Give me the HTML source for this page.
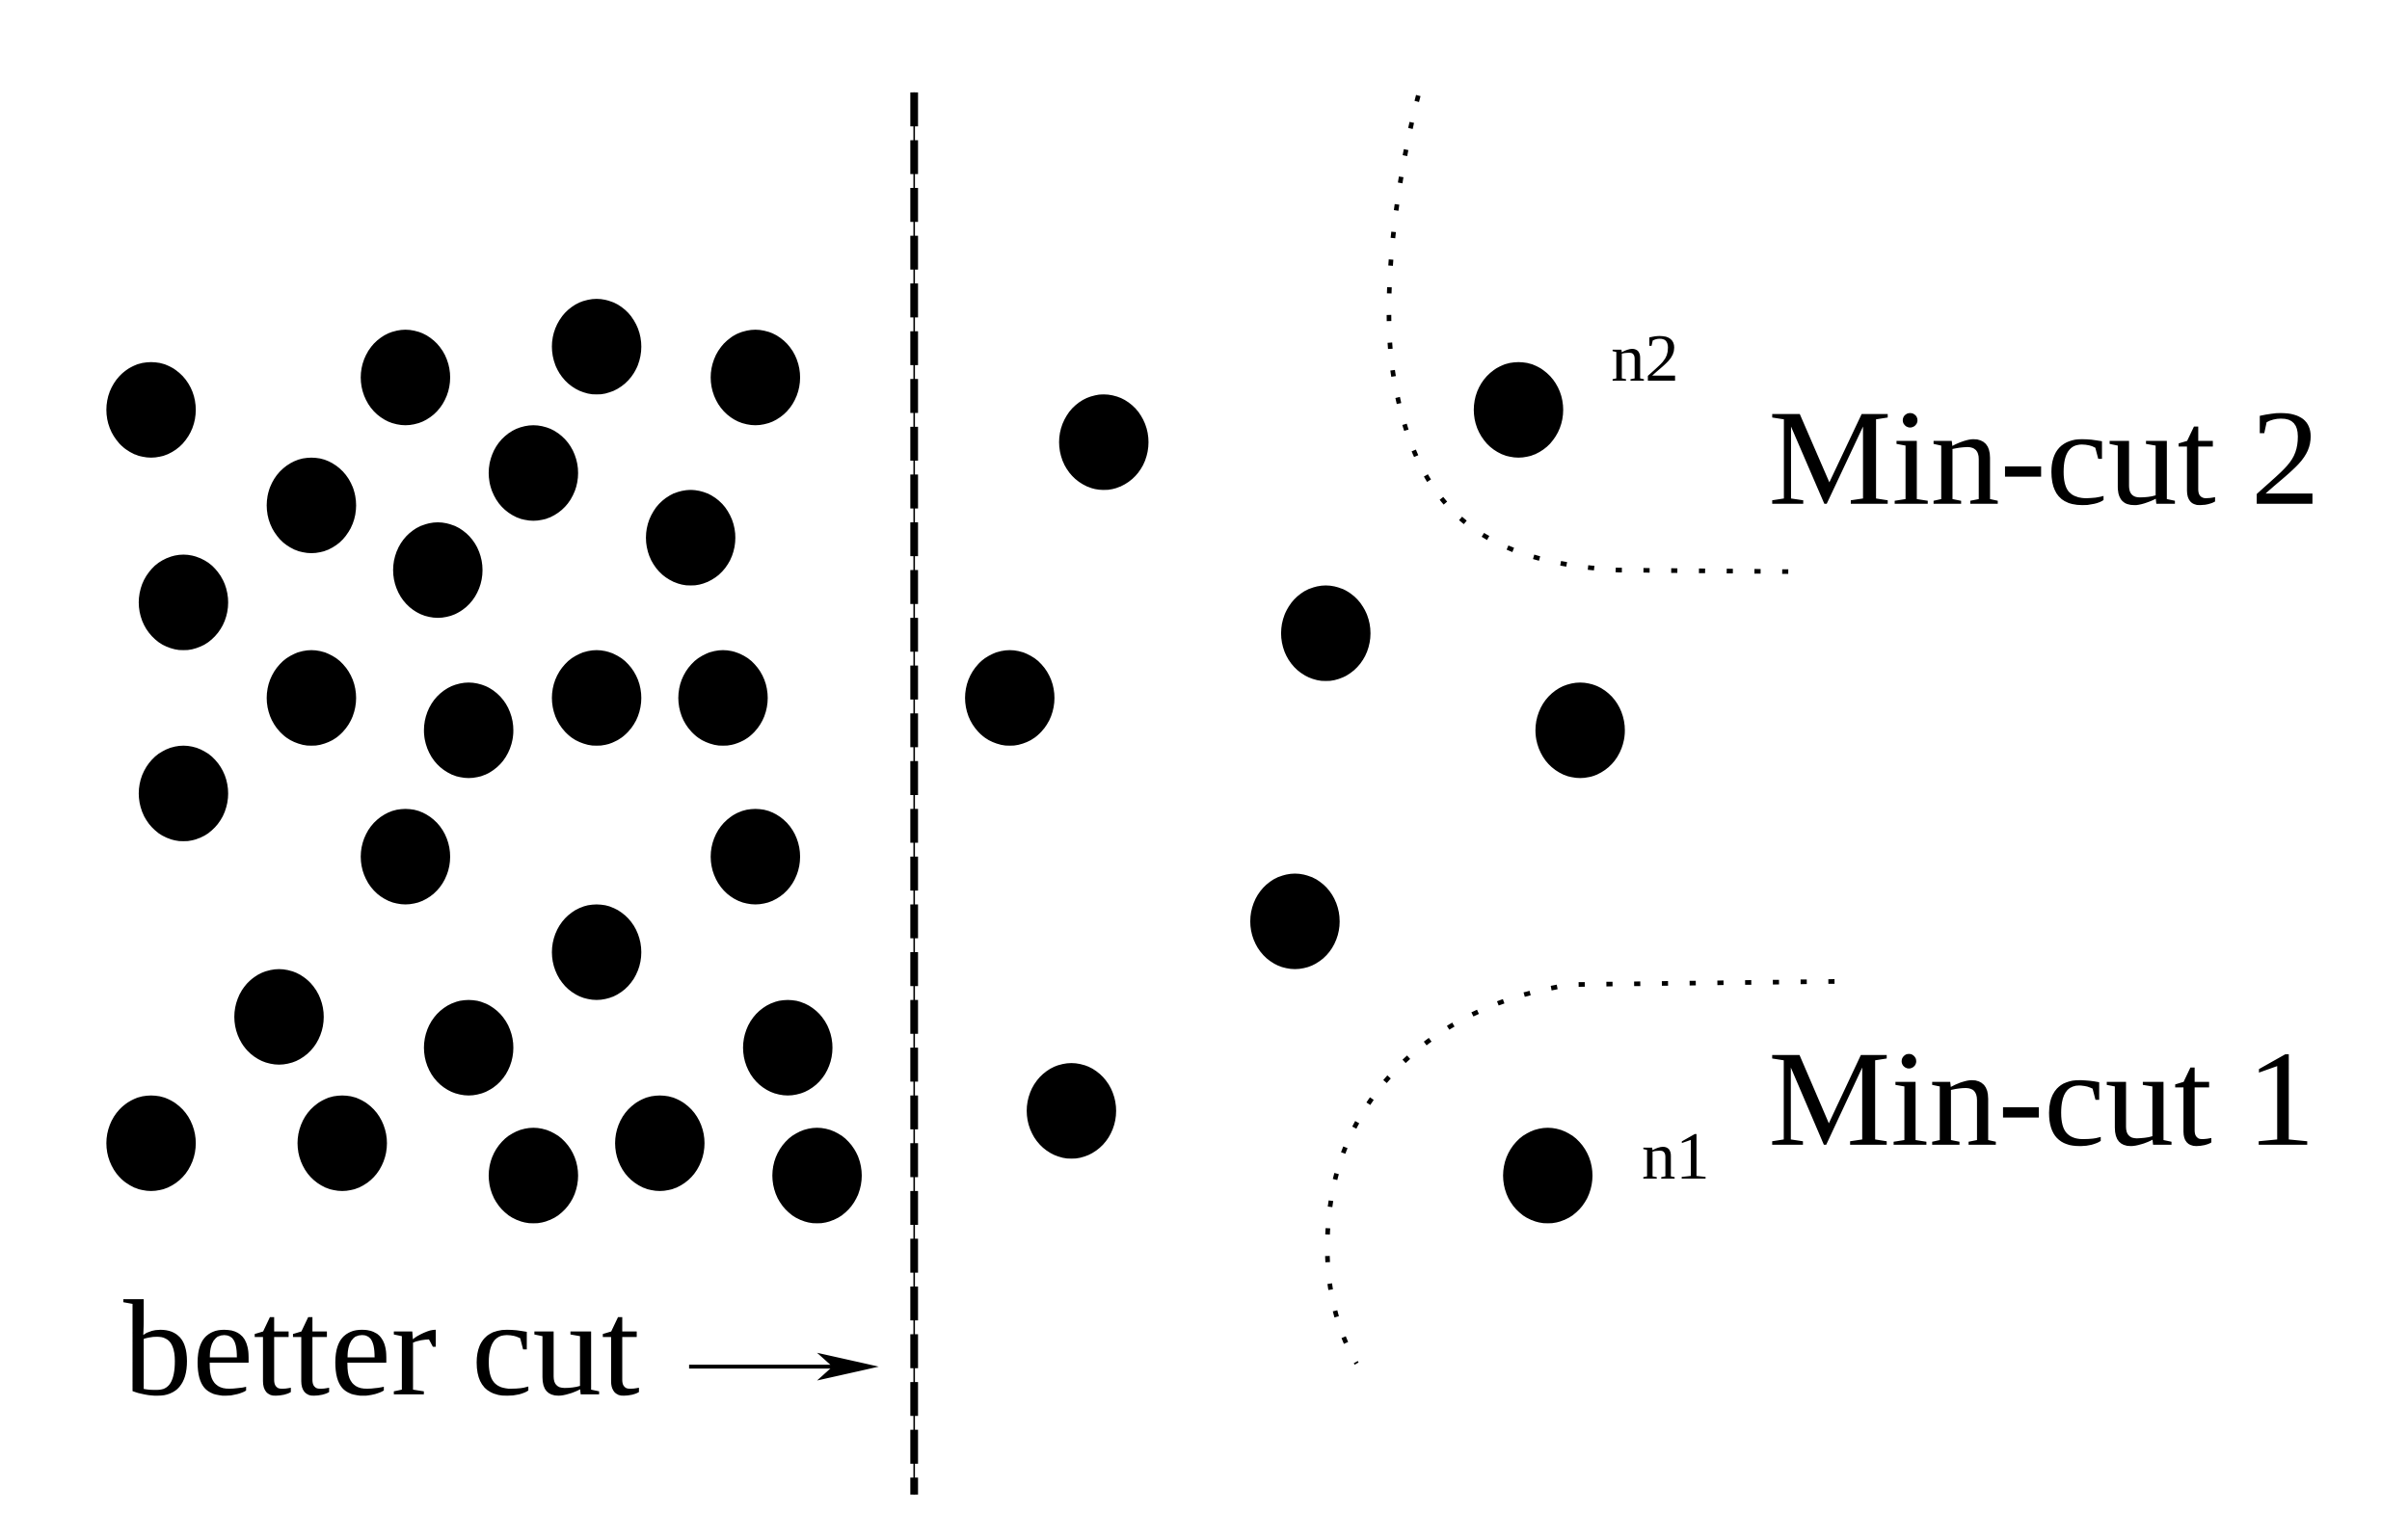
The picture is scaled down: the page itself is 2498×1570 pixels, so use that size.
<!DOCTYPE html>
<html><head><style>html,body{margin:0;padding:0;background:#fff}svg{display:block}
text{font-family:"Liberation Serif","Times New Roman",serif}</style></head>
<body>
<svg width="2498" height="1570" viewBox="0 0 1562 982" preserveAspectRatio="none" xmlns="http://www.w3.org/2000/svg">
<rect width="1562" height="982" fill="#fff"/>
<g fill="#000">
<ellipse cx="98" cy="266" rx="29" ry="31"/><ellipse cx="263" cy="245" rx="29" ry="31"/><ellipse cx="387" cy="225" rx="29" ry="31"/><ellipse cx="490" cy="245" rx="29" ry="31"/>
<ellipse cx="202" cy="328" rx="29" ry="31"/><ellipse cx="346" cy="307" rx="29" ry="31"/><ellipse cx="448" cy="349" rx="29" ry="31"/><ellipse cx="284" cy="370" rx="29" ry="31"/><ellipse cx="119" cy="391" rx="29" ry="31"/>
<ellipse cx="202" cy="453" rx="29" ry="31"/><ellipse cx="304" cy="474" rx="29" ry="31"/><ellipse cx="387" cy="453" rx="29" ry="31"/><ellipse cx="469" cy="453" rx="29" ry="31"/><ellipse cx="119" cy="515" rx="29" ry="31"/>
<ellipse cx="263" cy="556" rx="29" ry="31"/><ellipse cx="490" cy="556" rx="29" ry="31"/><ellipse cx="387" cy="618" rx="29" ry="31"/><ellipse cx="181" cy="660" rx="29" ry="31"/><ellipse cx="304" cy="680" rx="29" ry="31"/><ellipse cx="511" cy="680" rx="29" ry="31"/>
<ellipse cx="98" cy="742" rx="29" ry="31"/><ellipse cx="222" cy="742" rx="29" ry="31"/><ellipse cx="346" cy="763" rx="29" ry="31"/><ellipse cx="428" cy="742" rx="29" ry="31"/><ellipse cx="530" cy="763" rx="29" ry="31"/>
<ellipse cx="716" cy="287" rx="29" ry="31"/><ellipse cx="655" cy="453" rx="29" ry="31"/><ellipse cx="860" cy="411" rx="29" ry="31"/><ellipse cx="1025" cy="474" rx="29" ry="31"/><ellipse cx="840" cy="598" rx="29" ry="31"/><ellipse cx="695" cy="721" rx="29" ry="31"/><ellipse cx="985" cy="266" rx="29" ry="31"/><ellipse cx="1004" cy="763" rx="29" ry="31"/>
</g>
<line x1="593" y1="60" x2="593" y2="970" stroke="#000" stroke-width="1"/>
<line x1="593" y1="60" x2="593" y2="970" stroke="#000" stroke-width="5" stroke-dasharray="22,9"/>
<line x1="447" y1="887" x2="545" y2="887" stroke="#000" stroke-width="2.5"/>
<polygon points="570,887 530,878 540,887 530,896" fill="#000"/>
<path d="M920,62 C905,120 895,200 905,250 C920,330 960,365 1050,370 L1160,371" fill="none" stroke="#000" stroke-width="3" stroke-dasharray="4,14"/>
<path d="M1190,637 L1020,639 C940,650 880,700 865,770 C855,820 865,860 880,885" fill="none" stroke="#000" stroke-width="3" stroke-dasharray="4,14"/>
<g fill="#000">
<text x="1147" y="327" font-size="89" textLength="358" lengthAdjust="spacingAndGlyphs">Min-cut 2</text>
<text x="1147" y="743" font-size="89" textLength="355" lengthAdjust="spacingAndGlyphs">Min-cut 1</text>
<text x="80" y="905" font-size="89" textLength="335" lengthAdjust="spacingAndGlyphs">better cut</text>
<text x="1045" y="247" font-size="44">n2</text>
<text x="1065" y="765" font-size="44">n1</text>
</g>
</svg>
</body></html>
